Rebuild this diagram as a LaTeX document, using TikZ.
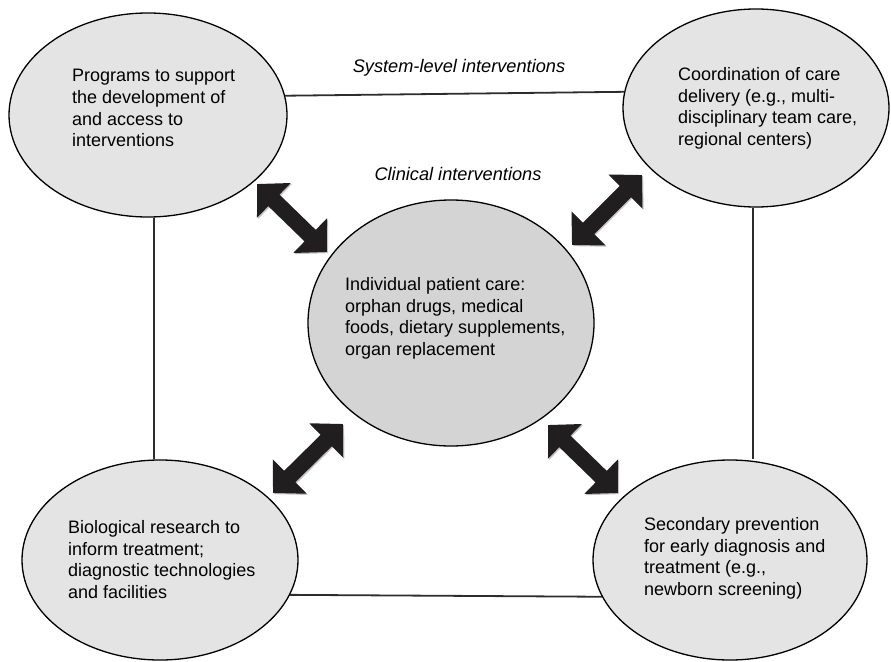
\documentclass[tikz,border=0pt]{standalone}
\usepackage{fontspec}
\setmainfont{Liberation Sans}
\usetikzlibrary{shapes.geometric,arrows.meta}
\definecolor{outerfill}{RGB}{228,228,229}
\definecolor{centerfill}{RGB}{212,212,212}
\definecolor{linegray}{RGB}{45,45,45}
\definecolor{arrowblack}{RGB}{32,30,31}
\definecolor{shadowgray}{RGB}{195,195,195}
\begin{document}
\begin{tikzpicture}[x=1pt,y=-1pt,
  bubble/.style={ellipse,draw=black,line width=1.3pt,fill=outerfill,inner sep=0pt},
  label/.style={anchor=north west,align=left,inner sep=0pt,font=\fontsize{18}{21.8}\selectfont},
  heading/.style={anchor=base,inner sep=0pt,font=\fontsize{18.2}{20}\selectfont\itshape},
  link/.style={draw=linegray,line width=1.8pt},
  bigarrow/.style={draw=arrowblack,line width=16pt,{Triangle[width=47pt,length=23.5pt]}-{Triangle[width=47pt,length=23.5pt]}},
  arrowshadow/.style={draw=shadowgray,line width=16pt,{Triangle[width=47pt,length=23.5pt]}-{Triangle[width=47pt,length=23.5pt]}}
]
\useasboundingbox (0,0) rectangle (891,661);

% ellipses
\node[bubble,minimum width=278pt,minimum height=204pt] (tl) at (148,115) {};
\node[bubble,minimum width=266pt,minimum height=198pt] (tr) at (756,108) {};
\node[bubble,fill=centerfill,minimum width=286pt,minimum height=246pt] (c) at (451,323) {};
\node[bubble,minimum width=276pt,minimum height=200pt] (bl) at (160,560) {};
\node[bubble,minimum width=274pt,minimum height=200pt] (br) at (730,560) {};

% connectors between outer ellipses
\draw[link] (tl.8.8) -- (tr.173.9);
\draw[link] ([xshift=6pt]tl.south) -- ([xshift=-6pt]bl.north);
\draw[link] ([xshift=-3pt]tr.south) -- ([xshift=23pt]br.north);
\draw[link] (bl.-15.1) -- (br.-164.7);

% arrow end points
\coordinate (a1s) at (257,184);
\coordinate (a1e) at (327,252);
\coordinate (a2s) at (642,175);
\coordinate (a2e) at (572,245);
\coordinate (a3s) at (273,493);
\coordinate (a3e) at (343,424);
\coordinate (a4s) at (548,425);
\coordinate (a4e) at (618,493);

% arrow shadows
\foreach \s/\e in {a1s/a1e,a2s/a2e,a3s/a3e,a4s/a4e}{
  \draw[arrowshadow] ([shift={(1.2pt,-1.2pt)}]\s) -- ([shift={(1.2pt,-1.2pt)}]\e);
}
% arrows
\draw[bigarrow] (a1s) -- (a1e);
\draw[bigarrow] (a2s) -- (a2e);
\draw[bigarrow] (a3s) -- (a3e);
\draw[bigarrow] (a4s) -- (a4e);

% texts
\node[label] (tltext) at (72,69) {Programs to support\\the development of\\and access to\\interventions};
\node[label] (trtext) at (678,67) {Coordination of care\\delivery (e.g., multi-\\disciplinary team care,\\regional centers)};
\node[label] (ctext) at (345,277) {Individual patient care:\\orphan drugs, medical\\foods, dietary supplements,\\organ replacement};
\node[label] (bltext) at (68,520) {Biological research to\\inform treatment;\\diagnostic technologies\\and facilities};
\node[label] (brtext) at (644,517) {Secondary prevention\\for early diagnosis and\\treatment (e.g.,\\newborn screening)};

\node[heading] (sys) at (459,73) {System-level interventions};
\node[heading] (clin) at (458,180) {Clinical interventions};
\end{tikzpicture}
\end{document}
